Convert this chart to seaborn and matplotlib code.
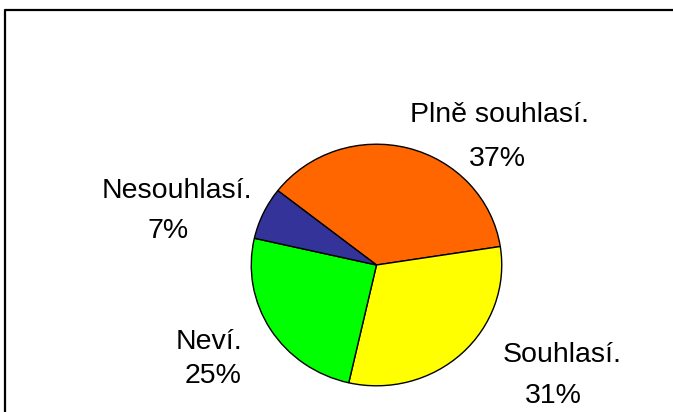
import matplotlib
matplotlib.use("Agg")
import matplotlib.pyplot as plt
import seaborn as sns
from matplotlib.lines import Line2D

# data
categories = ["Plně souhlasí.", "Souhlasí.", "Neví.", "Nesouhlasí."]
shares = [37, 31, 25, 7]
pct_labels = ["37%", "31%", "25%", "7%"]
colors = ["#FF6600", "#FFFF00", "#00FF00", "#333399"]

# label anchors in pixels (x centre, baseline) for name / percent
name_pos = [(499, 122), (562, 362), (209, 349), (177, 198)]
pct_pos = [(497, 166), (553, 403), (213, 383), (168, 238)]

W, H = 673, 412

sns.set_theme(style="white")
plt.rcParams["font.family"] = ["Liberation Sans", "DejaVu Sans"]

fig = plt.figure(figsize=(W / 100, H / 100), dpi=100)
fig.patch.set_facecolor("white")


def px(x, y):
    return x / W, 1 - y / H


# pie axes, slightly wider than tall like the original
ax = fig.add_axes([250 / W, 25 / H, 253 / W, 244 / H])
ax.pie(shares, colors=colors, startangle=142, counterclock=False,
       wedgeprops=dict(edgecolor="black", linewidth=1.0))
ax.set_aspect("auto")
ax.set_xlim(-1.01, 1.01)
ax.set_ylim(-1.01, 1.01)
ax.axis("off")

for name, pct, (nx, ny), (qx, qy) in zip(categories, pct_labels, name_pos, pct_pos):
    fig.text(*px(nx, ny), name, ha="center", va="baseline", fontsize=20.5, color="black")
    fig.text(*px(qx, qy), pct, ha="center", va="baseline", fontsize=20.5, color="black")

# chart frame (only top and left edges are visible in the crop)
fig.add_artist(Line2D([5 / W, 5 / W, 1], [0, 1 - 10 / H, 1 - 10 / H],
                      transform=fig.transFigure, color="black", linewidth=1.6))

fig.savefig("out.png", dpi=100, facecolor="white")
